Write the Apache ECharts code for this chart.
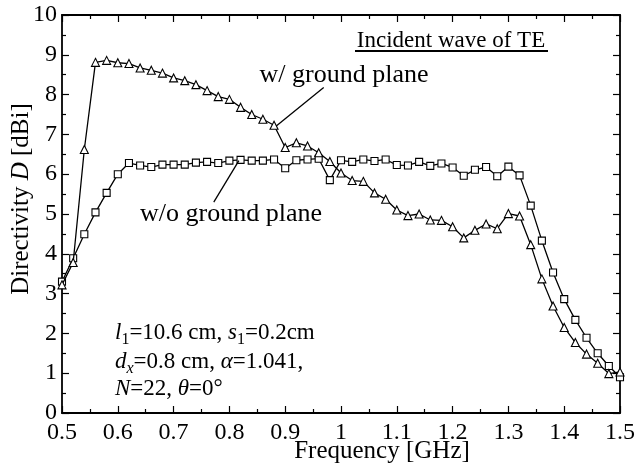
<!DOCTYPE html>
<html>
<head>
<meta charset="utf-8">
<script src="https://cdn.jsdelivr.net/npm/echarts@6/dist/echarts.min.js"></script>
<style>html,body{margin:0;padding:0;background:#fff;}#c{width:640px;height:470px;}</style>
</head>
<body>
<div id="c"></div>
<script>
// Frequency points (GHz)
var freq = [0.50,0.52,0.54,0.56,0.58,0.60,0.62,0.64,0.66,0.68,0.70,0.72,0.74,0.76,0.78,0.80,0.82,0.84,0.86,0.88,0.90,0.92,0.94,0.96,0.98,1.00,1.02,1.04,1.06,1.08,1.10,1.12,1.14,1.16,1.18,1.20,1.22,1.24,1.26,1.28,1.30,1.32,1.34,1.36,1.38,1.40,1.42,1.44,1.46,1.48,1.50];
// Directivity with ground plane (dBi) - triangles
var withGround = [3.22,3.78,6.62,8.81,8.86,8.80,8.78,8.67,8.61,8.54,8.42,8.35,8.25,8.10,7.95,7.88,7.68,7.50,7.38,7.23,6.67,6.79,6.71,6.54,6.32,6.03,5.84,5.82,5.53,5.37,5.10,4.96,5.00,4.85,4.84,4.68,4.40,4.59,4.75,4.63,5.01,4.95,4.23,3.37,2.69,2.15,1.77,1.48,1.25,0.99,1.03];
// Directivity without ground plane (dBi) - squares
var withoutGround = [3.30,3.89,4.49,5.04,5.53,6.00,6.28,6.22,6.18,6.24,6.24,6.24,6.29,6.31,6.28,6.34,6.36,6.34,6.34,6.37,6.15,6.35,6.37,6.39,5.85,6.35,6.31,6.37,6.33,6.37,6.23,6.22,6.31,6.21,6.27,6.17,5.96,6.11,6.18,5.95,6.19,5.97,5.21,4.33,3.53,2.86,2.34,1.89,1.50,1.18,0.90];
// Axis ranges
var xRange = [0.5, 1.5];
var yRange = [0, 10];
// Annotation arrows (data coordinates): [tail, head]
var arrowWith = [[0.969, 8.18], [0.884, 7.21]];
var arrowWithout = [[0.772, 5.30], [0.817, 6.34]];

var FONT = "'Liberation Serif','Times New Roman',serif";

function pairs(xs, ys) { return xs.map(function (x, i) { return [x, ys[i]]; }); }

var chart = echarts.init(document.getElementById('c'), null, {renderer: 'canvas'});

function axisCommon(show) {
  return {
    axisLine: {show: true, onZero: false, lineStyle: {color: '#000', width: 1.8}},
    axisTick: {show: true, inside: true, length: 7, lineStyle: {color: '#000', width: 1.2}},
    minorTick: {show: true, splitNumber: 2, length: 4, lineStyle: {color: '#000', width: 1.2}},
    splitLine: {show: false},
    axisLabel: {show: show, color: '#000', fontFamily: FONT, fontSize: 24}
  };
}

var xBottom = Object.assign({type: 'value', position: 'bottom', min: xRange[0], max: xRange[1], interval: 0.1}, axisCommon(true));
xBottom.axisLabel.margin = 8;
xBottom.axisLabel.formatter = function (v) { return String(+v.toFixed(2)); };
xBottom.axisLabel.showMinLabel = true;
xBottom.axisLabel.showMaxLabel = true;
var xTop = Object.assign({type: 'value', position: 'top', min: xRange[0], max: xRange[1], interval: 0.1}, axisCommon(false));
var yLeft = Object.assign({type: 'value', position: 'left', min: yRange[0], max: yRange[1], interval: 1}, axisCommon(true));
yLeft.axisLabel.margin = 5;
var yRight = Object.assign({type: 'value', position: 'right', min: yRange[0], max: yRange[1], interval: 1}, axisCommon(false));

var option = {
  animation: false,
  backgroundColor: '#fff',
  grid: {left: 62, top: 15, width: 558, height: 398, containLabel: false},
  xAxis: [xBottom, xTop],
  yAxis: [yLeft, yRight],
  series: [
    {
      name: 'w/ ground plane', type: 'line', xAxisIndex: 0, yAxisIndex: 0,
      data: pairs(freq, withGround),
      symbol: 'triangle', symbolSize: 8, showAllSymbol: true,
      lineStyle: {color: '#000', width: 1.3},
      itemStyle: {color: '#fff', borderColor: '#000', borderWidth: 1.1},
      z: 3,
      markLine: {
        silent: true, symbol: ['none', 'arrow'], symbolSize: [0, 11], precision: 4,
        label: {show: false},
        lineStyle: {color: '#000', width: 1.3, type: 'solid'},
        data: [
          [{coord: arrowWith[0]}, {coord: arrowWith[1]}],
          [{coord: arrowWithout[0]}, {coord: arrowWithout[1]}]
        ]
      }
    },
    {
      name: 'w/o ground plane', type: 'line', xAxisIndex: 0, yAxisIndex: 0,
      data: pairs(freq, withoutGround),
      symbol: 'rect', symbolSize: 7, showAllSymbol: true,
      lineStyle: {color: '#000', width: 1.3},
      itemStyle: {color: '#fff', borderColor: '#000', borderWidth: 1.1},
      z: 2
    }
  ],
  graphic: [
    {type: 'text', left: 'center', x: 0, style: {}, invisible: true},
    {type: 'text', x: 382, y: 451, style: {text: 'Frequency [GHz]', font: '25px ' + FONT, fill: '#000', align: 'center', verticalAlign: 'middle'}},
    {type: 'text', x: 21, y: 199, rotation: Math.PI / 2, style: {
      text: '{n|Directivity }{i|D}{n| [dBi]}', align: 'center', verticalAlign: 'middle',
      rich: {n: {fontFamily: FONT, fontSize: 25, fill: '#000'}, i: {fontFamily: FONT, fontSize: 25, fontStyle: 'italic', fill: '#000'}}
    }},
    {type: 'text', x: 451, y: 41, style: {text: 'Incident wave of TE', font: '23px ' + FONT, fill: '#000', align: 'center', verticalAlign: 'middle'}},
    {type: 'line', shape: {x1: 355, y1: 51, x2: 548, y2: 51}, style: {stroke: '#000', lineWidth: 2}},
    {type: 'text', x: 344, y: 75, style: {text: 'w/ ground plane', font: '26px ' + FONT, fill: '#000', align: 'center', verticalAlign: 'middle'}},
    {type: 'text', x: 231, y: 214, style: {text: 'w/o ground plane', font: '26px ' + FONT, fill: '#000', align: 'center', verticalAlign: 'middle'}},
    {type: 'text', x: 115, y: 333, style: {
      text: '{i|l}{sub|1}{n|=10.6 cm, }{i|s}{sub|1}{n|=0.2cm}', align: 'left', verticalAlign: 'middle',
      rich: {
        n: {fontFamily: FONT, fontSize: 23, fill: '#000'},
        i: {fontFamily: FONT, fontSize: 23, fontStyle: 'italic', fill: '#000'},
        sub: {fontFamily: FONT, fontSize: 16, fill: '#000', padding: [14, 0, 0, 0]}
      }
    }},
    {type: 'text', x: 115, y: 362, style: {
      text: '{i|d}{sub|x}{n|=0.8 cm, }{i|α}{n|=1.041,}', align: 'left', verticalAlign: 'middle',
      rich: {
        n: {fontFamily: FONT, fontSize: 23, fill: '#000'},
        i: {fontFamily: FONT, fontSize: 23, fontStyle: 'italic', fill: '#000'},
        sub: {fontFamily: FONT, fontSize: 16, fontStyle: 'italic', fill: '#000', padding: [14, 0, 0, 0]}
      }
    }},
    {type: 'text', x: 115, y: 389, style: {
      text: '{i|N}{n|=22, }{i|θ}{n|=0°}', align: 'left', verticalAlign: 'middle',
      rich: {
        n: {fontFamily: FONT, fontSize: 23, fill: '#000'},
        i: {fontFamily: FONT, fontSize: 23, fontStyle: 'italic', fill: '#000'}
      }
    }}
  ]
};
option.graphic.shift();
chart.setOption(option);
</script>
</body>
</html>
